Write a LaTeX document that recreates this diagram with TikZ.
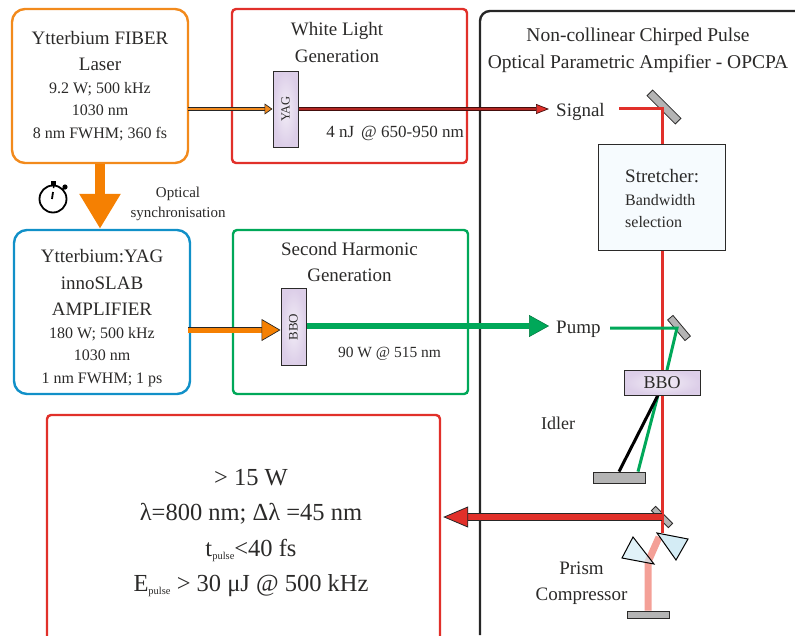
\documentclass[tikz,border=0pt]{standalone}
\usepackage{fontspec}
\setmainfont{Liberation Serif}
\usetikzlibrary{arrows.meta}
\definecolor{inkgray}{HTML}{2B2A29}
\definecolor{laserorange}{HTML}{F28A1C}
\definecolor{fatorange}{HTML}{F58002}
\definecolor{boxred}{HTML}{E1302A}
\definecolor{ampblue}{HTML}{1190C8}
\definecolor{shgreen}{HTML}{00A859}
\definecolor{crystalpurple}{HTML}{DCCEE8}
\definecolor{mirrorgray}{HTML}{B4B4B4}
\definecolor{stretchblue}{HTML}{F6FBFE}
\definecolor{prismblue}{HTML}{D4ECF5}
\definecolor{palered}{HTML}{F4A097}
\newcommand{\subtxt}[1]{\raisebox{-.3ex}{\fontsize{10.5}{10.5}\selectfont #1}}
\tikzset{
  every node/.style={text=inkgray},
  panel/.style={draw=#1, line width=2.4pt, rounded corners=4pt, inner sep=0pt},
  crystal/.style={draw=inkgray, line width=1pt, inner color=crystalpurple!35, outer color=crystalpurple, inner sep=0pt},
  mirror/.style={draw=inkgray, line width=.8pt, fill=mirrorgray, inner sep=0pt},
  name label/.style={align=center, font=\fontsize{19}{26.5}\selectfont},
  spec label/.style={align=center, font=\fontsize{16}{22.5}\selectfont},
  thinred/.style={draw=boxred, line width=3pt},
  thingreen/.style={draw=shgreen, line width=3pt},
}
\begin{document}
\begin{tikzpicture}[x=1pt, y=-1pt]
    \useasboundingbox (0,0) rectangle (795,635);

    % Laser
    \node[panel=laserorange, rounded corners=13pt, minimum width=176pt, minimum height=154pt] (laser) at (100,86) {};
    \node[name label] (laserName) at (100,51) {Ytterbium FIBER\\Laser};
    \node[spec label] (laserSpec) at (100,111.5) {9.2 W; 500 kHz\\1030 nm\\8 nm FWHM; 360 fs};

    % White light
    \node[panel=boxred, minimum width=235pt, minimum height=154pt] (white) at (349.5,86) {};
    \node[name label] (whiteName) at (337,42.5) {White Light\\Generation};
    \node[crystal, minimum width=25pt, minimum height=76pt] (yag) at (285.5,109) {};
    \node[rotate=90, font=\fontsize{12.5}{12.5}\selectfont] (yagName) at (yag) {YAG};
    \node[font=\fontsize{17}{20}\selectfont] (whiteSpec) at (395,133.5) {4 nJ \,@ 650-950 nm};

    % Amplifier
    \node[panel=ampblue, rounded corners=13pt, minimum width=176pt, minimum height=164pt] (amp) at (102,312) {};
    \node[name label] (ampName) at (102,282.5) {Ytterbium:YAG\\innoSLAB\\AMPLIFIER};
    \node[spec label] (ampSpec) at (102,357) {180 W; 500 kHz\\1030 nm\\1 nm FWHM; 1 ps};

    % Second harmonic
    \node[panel=shgreen, minimum width=235pt, minimum height=164pt] (shg) at (350.5,312) {};
    \node[name label] (shgName) at (349.5,262) {Second Harmonic\\Generation};
    \node[crystal, minimum width=25pt, minimum height=77pt] (bboA) at (293.5,327) {};
    \node[rotate=90, font=\fontsize{13}{13}\selectfont] (bboAName) at (bboA) {BBO};
    \node[font=\fontsize{15.5}{20}\selectfont] (shgSpec) at (389.5,354) {90 W @ 515 nm};

    % Synchronisation
    \draw[fatorange, line width=10pt, -{Triangle[length=35pt, width=39pt]}] (laser.south) -- (laser.south |- amp.north);
    \node[circle, draw=black, line width=1.8pt, minimum size=27pt, inner sep=0pt] (watch) at (53,199) {};
    \fill (50.5,181) rectangle (56,186);
    \draw[line width=1.5pt] (53.5,186) -- (53.5,188) (62,190) -- (65,187);
    \fill (65,187) circle (2.6pt);
    \draw[line width=1.8pt] (53,192) -- (52,199);
    \node[font=\fontsize{15}{20}\selectfont, align=center] (syncName) at (178,203.5) {Optical\\synchronisation};

    % OPCPA frame
    \draw[black!85, line width=2.4pt, rounded corners=10pt] (480,635) -- (480,11) -- (795,11);
    \node[font=\fontsize{19.5}{27}\selectfont, align=center] (opcpaName) at (638,50.5) {Non-collinear Chirped Pulse\\Optical Parametric Ampifier - OPCPA};

    % Output
    \node[panel=boxred, minimum width=393pt, minimum height=230pt] (output) at (243.5,530) {};
    \node[font=\fontsize{24.5}{35.5}\selectfont, align=center] (outputSpec) at (251,533)
      {> 15 W\\λ=800 nm; Δλ =45 nm\\t\subtxt{pulse}<40 fs\\E\subtxt{pulse} > 30 μJ @ 500 kHz};

    % Mirrors
    \node[mirror, rotate=-45, minimum width=40pt, minimum height=8pt] (mirrorSignal) at (664,107) {};
    \node[mirror, rotate=-50, minimum width=27pt, minimum height=7pt] (mirrorPump) at (679,328) {};
    \node[mirror, minimum width=52pt, minimum height=11pt] (mirrorIdler) at (619,477.5) {};
    \node[mirror, rotate=-45, minimum width=24pt, minimum height=6pt] (mirrorOut) at (662,517) {};
    \node[mirror, minimum width=42pt, minimum height=7pt] (mirrorEnd) at (648,614.5) {};
    \coordinate (signalStart) at (619,108);
    \coordinate (signalTurn) at (662,108);
    \coordinate (signalEnd) at (662,533);
    \coordinate (pumpStart) at (610,328);
    \coordinate (pumpTurn) at (677,328);
    \coordinate (bboIn) at (667,370);
    \coordinate (bboOut) at (658,395);
    \coordinate (paleStart) at (659,537);
    \coordinate (paleTurn) at (648,562);

    % Beams
    \draw[thinred, line join=miter] (signalStart) -- (signalTurn) -- (signalEnd);
    \draw[palered, line width=7pt, line join=round] (paleStart) -- (paleTurn) -- (mirrorEnd.north -| paleTurn);
    \draw[thingreen] (pumpStart) -- (pumpTurn) -- (bboIn);
    \draw[thingreen] (bboOut) -- (mirrorIdler.north -| 638,0);
    \draw[black, line width=3pt] (bboOut) -- (mirrorIdler.north);

    % Prisms
    \draw[draw=black, line width=1pt, fill=prismblue, fill opacity=.7] (633,537) -- (622,558) -- (654,564) -- cycle;
    \draw[draw=black, line width=1pt, fill=prismblue] (657,533) -- (688,539) -- (676,560) -- cycle;

    % Optics on the beam
    \node[draw=inkgray, line width=1pt, fill=stretchblue, minimum width=127pt, minimum height=106pt] (stretcher) at (661.5,197) {};
    \node[font=\fontsize{19}{24}\selectfont, anchor=west, inner sep=0pt] (stretcherName) at (625,176) {Stretcher:};
    \node[font=\fontsize{16}{22}\selectfont, align=left, anchor=west, inner sep=0pt] (stretcherSpec) at (625,211) {Bandwidth\\selection};
    \node[crystal, minimum width=76pt, minimum height=25pt, font=\fontsize{18}{18}\selectfont] (bboB) at (662,382.5) {BBO};

    % Labels
    \node[font=\fontsize{19}{24}\selectfont, anchor=west, inner sep=0pt] (signal) at (556,112) {Signal};
    \node[font=\fontsize{19}{24}\selectfont, anchor=west, inner sep=0pt] (pump) at (556,329) {Pump};
    \node[font=\fontsize{18}{24}\selectfont, anchor=west, inner sep=0pt] (idler) at (541,423) {Idler};
    \node[font=\fontsize{19}{26}\selectfont, align=center] (prism) at (581.5,583) {Prism\\Compressor};

    % Arrows
    \draw[draw=black!85, line width=.7pt, double=laserorange, double distance=2.4pt, -{Triangle[length=8pt, width=11pt, fill=laserorange]}]
      ([xshift=-1pt]laser.east |- yag.west) -- (yag.west);
    \draw[draw=black!70!boxred, line width=.7pt, double=boxred!80!black, double distance=1.8pt, -{Triangle[length=13pt, width=10pt, fill=boxred]}]
      (yag.east) -- ([xshift=-7pt]signal.west |- yag.east);
    \draw[draw=black!85, line width=.7pt, double=fatorange, double distance=5pt, -{Triangle[length=19pt, width=22pt, fill=fatorange]}]
      ([xshift=-3pt]amp.east |- 0,330) -- (bboA.west |- 0,330);
    \draw[draw=shgreen!70!black, line width=.5pt, double=shgreen, double distance=5.5pt, -{Triangle[length=20pt, width=22pt, fill=shgreen]}]
      (bboA.east |- 0,326) -- ([xshift=-7pt]pump.west |- 0,326);
    \draw[draw=black!85, line width=.8pt, double=boxred, double distance=5.5pt, -{Triangle[length=25pt, width=21pt, fill=boxred]}]
      (mirrorOut.center) -- ([xshift=2pt]output.east |- mirrorOut.center);
\end{tikzpicture}
\end{document}
